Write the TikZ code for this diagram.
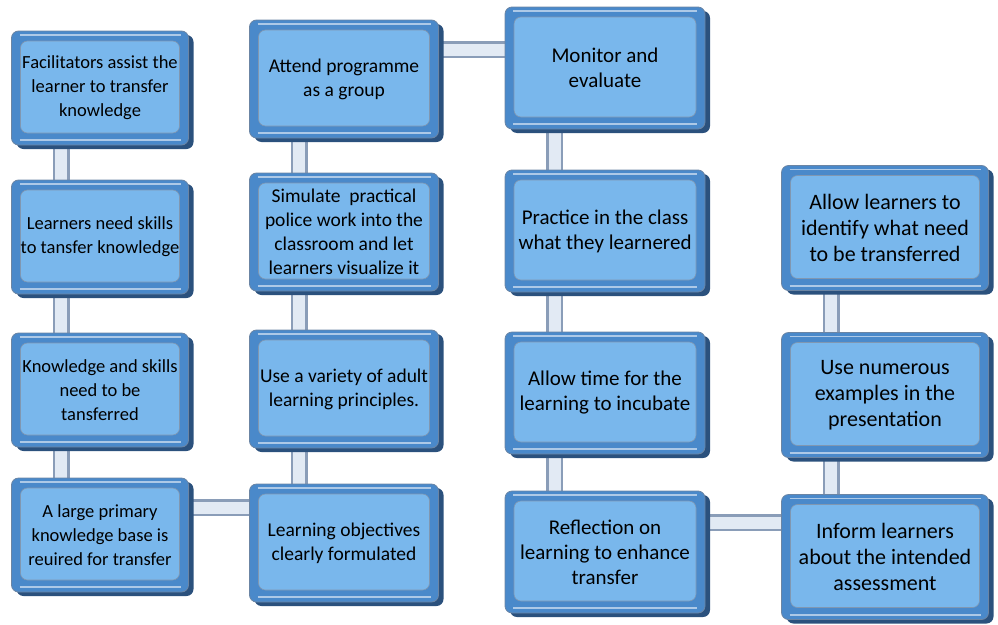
\documentclass[tikz,border=0pt]{standalone}
\usepackage{fontspec}
\setmainfont{Carlito}
\usetikzlibrary{shadows,backgrounds}

\definecolor{face}{HTML}{79B7EC}
\definecolor{bevel}{HTML}{4A89CA}
\definecolor{rim}{HTML}{2B517D}
\definecolor{pipeedge}{HTML}{8A9DB8}
\definecolor{pipeface}{HTML}{E2EAF4}

\begin{document}
\begin{tikzpicture}[x=1pt, y=-1pt,
  main/.style={rectangle, rounded corners=7pt, fill=bevel, draw=rim!70, line width=0.8pt,
    align=center, text=black, inner sep=0pt,
    drop shadow={shadow xshift=5pt, shadow yshift=-4pt, fill=rim, opacity=1},
    path picture={
      \fill[face, draw=rim!60, line width=0.6pt]
        ([shift={(9pt,-10pt)}]path picture bounding box.north west) rectangle
        ([shift={(-9pt,12pt)}]path picture bounding box.south east);
      \draw[white, opacity=0.55, line width=1.2pt]
        ([shift={(8pt,-4pt)}]path picture bounding box.north west) --
        ([shift={(-8pt,-4pt)}]path picture bounding box.north east);
      \draw[white, opacity=0.55, line width=2pt]
        ([shift={(8pt,5pt)}]path picture bounding box.south west) --
        ([shift={(-8pt,5pt)}]path picture bounding box.south east);
    }},
  colA/.style={main, minimum width=177pt, minimum height=114pt, font=\fontsize{18.5}{24}\selectfont},
  colB/.style={main, minimum width=189pt, minimum height=118pt, font=\fontsize{19.5}{24}\selectfont},
  colC/.style={main, minimum width=200pt, minimum height=122pt, font=\fontsize{21}{25}\selectfont},
  colD/.style={main, minimum width=207pt, minimum height=125pt, font=\fontsize{22}{26}\selectfont},
  pipe/.style={draw=pipeedge, line width=2.5pt, double=pipeface, double distance=12pt}]

  \useasboundingbox (0,0) rectangle (998,624);

  % first column
  \node[colA] (a1) at (100,88) {Facilitators assist the\\learner to transfer\\knowledge};
  \node[colA] (a2) at (100,237) {Learners need skills\\to tansfer knowledge};
  \node[colA] (a3) at (100,390) {Knowledge and skills\\need to be\\tansferred};
  \node[colA] (a4) at (100,535) {A large primary\\knowledge base is\\reuired for transfer};

  % second column
  \node[colB] (b1) at (344,79) {Attend programme\\as a group};
  \node[colB] (b2) at (344,232) {Simulate~~practical\\police work into the\\classroom and let\\learners visualize it};
  \node[colB] (b3) at (344,389) {Use a variety of adult\\learning principles.};
  \node[colB] (b4) at (344,543) {Learning objectives\\clearly formulated};

  % third column
  \node[colC] (c1) at (605,68) {Monitor and\\evaluate};
  \node[colC] (c2) at (605,231) {Practice in the class\\what they learnered};
  \node[colC] (c3) at (605,393) {Allow time for the\\learning to incubate};
  \node[colC] (c4) at (605,552) {Reflection on\\learning to enhance\\transfer};

  % fourth column
  \node[colD] (d1) at (885,228) {Allow learners to\\identify what need\\to be transferred};
  \node[colD] (d2) at (885,395) {Use numerous\\examples in the\\presentation};
  \node[colD] (d3) at (885,557) {Inform learners\\about the intended\\assessment};

  \begin{scope}[on background layer]
    \foreach \u/\v in {a1/a2, a2/a3, a3/a4, b1/b2, b2/b3, b3/b4, c1/c2, c2/c3, c3/c4, d1/d2, d2/d3}
      \draw[pipe] ([xshift=50pt]\u.south west) -- ([xshift=50pt]\u.south west |- \v.north);
    \draw[pipe] ([yshift=-30pt]a4.north east) -- ([yshift=-30pt]a4.north east -| b4.west);
    \draw[pipe] ([yshift=-30pt]b1.north east) -- ([yshift=-30pt]b1.north east -| c1.west);
    \draw[pipe] ([yshift=-32pt]c4.north east) -- ([yshift=-32pt]c4.north east -| d3.west);
  \end{scope}
\end{tikzpicture}
\end{document}
